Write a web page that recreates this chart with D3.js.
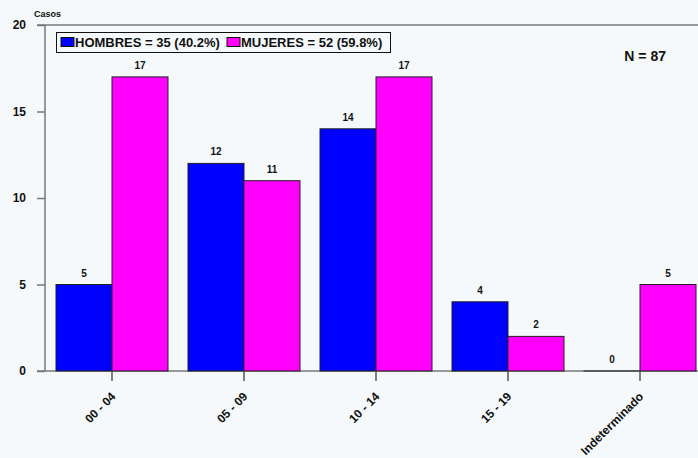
<!DOCTYPE html>
<html><head><meta charset="utf-8">
<script src="https://cdn.jsdelivr.net/npm/d3@7"></script>
<style>body{margin:0;background:#f5f9fb;}svg{display:block;font-family:"Liberation Sans",Arial,sans-serif;}</style>
</head><body><svg id="c" width="698" height="458"></svg>
<script>
const categories = ["00 - 04","05 - 09","10 - 14","15 - 19","Indeterminado"];
const hombres = [5,12,14,4,0];
const mujeres = [17,11,17,2,5];
const seriesNames = ["HOMBRES = 35 (40.2%)","MUJERES = 52 (59.8%)"];
const seriesColors = ["#0000ff","#ff00ff"];
const yTicks = [0,5,10,15,20];

const svg = d3.select("#c");
svg.append("rect").attr("width",698).attr("height",458).attr("fill","#f5f9fb");
const y = d3.scaleLinear().domain([0,20]).range([371,25]);
const p = 20/132;
const x0 = d3.scaleBand().domain(categories).range([46,706]).paddingInner(p).paddingOuter(p/2);
const x1 = d3.scaleBand().domain([0,1]).range([0,x0.bandwidth()]);

// top line
svg.append("line").attr("x1",37).attr("x2",698).attr("y1",y(20)).attr("y2",y(20)).attr("stroke","#777").attr("stroke-width",1.5);
// y axis
const ya = svg.append("g").attr("transform","translate(45,0)").call(d3.axisLeft(y).tickValues(yTicks).tickSize(8).tickPadding(11));
ya.selectAll("path,line").attr("stroke","#777").attr("stroke-width",1.5);
ya.select(".domain").remove();
svg.append("line").attr("x1",45).attr("x2",45).attr("y1",y(20)).attr("y2",y(0)).attr("stroke","#777").attr("stroke-width",1.5);
ya.selectAll("text").attr("font-size",12).attr("font-weight","bold").attr("fill","#111").attr("font-family","Liberation Sans, Arial, sans-serif");

svg.append("text").attr("x",34).attr("y",17).attr("font-size",9).attr("font-weight","bold").attr("fill","#111").text("Casos");

// x axis line (under bars)
svg.append("line").attr("x1",37).attr("x2",698).attr("y1",y(0)).attr("y2",y(0)).attr("stroke","#777").attr("stroke-width",1.5);

// bars
const data = categories.map((c,i)=>({c, vals:[hombres[i],mujeres[i]]}));
const g = svg.selectAll("g.grp").data(data).join("g").attr("class","grp").attr("transform",d=>`translate(${x0(d.c)},0)`);
g.selectAll("rect").data(d=>d.vals.map((v,k)=>({v,k}))).join("rect")
 .attr("x",d=>x1(d.k)).attr("width",x1.bandwidth()).attr("y",d=>Math.min(y(d.v), y(0)-0.01)).attr("height",d=>Math.max(y(0)-y(d.v),0.01))
 .attr("fill",d=>seriesColors[d.k]).attr("stroke","#222").attr("stroke-width",1);
g.selectAll("text").data(d=>d.vals.map((v,k)=>({v,k}))).join("text")
 .attr("x",d=>x1(d.k)+x1.bandwidth()/2).attr("y",d=>y(d.v)-8).attr("text-anchor","middle")
 .attr("font-size",10).attr("font-weight","bold").attr("fill","#111").text(d=>d.v);

const xa = svg.append("g").attr("transform",`translate(0,${y(0)})`).call(d3.axisBottom(x0).tickSize(10).tickPadding(6));
xa.select(".domain").remove();
xa.selectAll("line").attr("stroke","#555").attr("stroke-width",1.5);
xa.selectAll("text").attr("font-size",12).attr("font-weight","bold").attr("fill","#111")
  .attr("font-family","Liberation Sans, Arial, sans-serif")
  .attr("text-anchor","end").attr("dy",0).attr("transform","translate(-7,15) rotate(-45)");

// legend
const lg = svg.append("g");
lg.append("rect").attr("x",56.5).attr("y",32.5).attr("width",334).attr("height",20).attr("fill","#f5f9fb").attr("stroke","#111").attr("stroke-width",1);
const lx = [61,227];
seriesNames.forEach((n,i)=>{
  lg.append("rect").attr("x",lx[i]).attr("y",37.5).attr("width",13).attr("height",9).attr("fill",seriesColors[i]).attr("stroke","#111").attr("stroke-width",1);
  lg.append("text").attr("x",lx[i]+14).attr("y",47).attr("font-size",13).attr("font-weight","bold").attr("fill","#111").text(n);
});
svg.append("text").attr("x",666).attr("y",61).attr("text-anchor","end").attr("font-size",14).attr("font-weight","bold").attr("fill","#111").text("N = 87");
</script></body></html>
